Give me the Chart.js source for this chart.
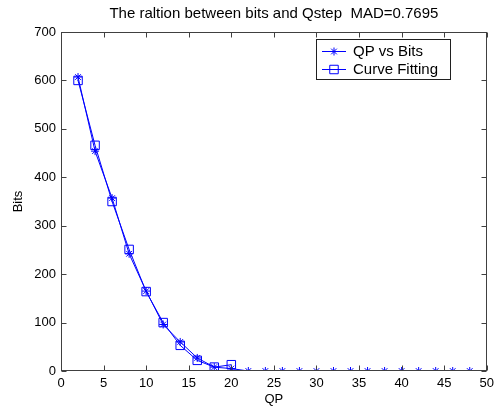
<!DOCTYPE html>
<html>
<head>
<meta charset="utf-8">
<script src="https://cdn.jsdelivr.net/npm/chart.js@4"></script>
<style>
  body { margin: 0; background: #fff; }
  #wrap { width: 499px; height: 410px; }
</style>
</head>
<body>
<div id="wrap"><canvas id="c" width="499" height="410"></canvas></div>
<script>
// data
let qp = [2, 4, 6, 8, 10, 12, 14, 16, 18, 20, 22, 24, 26, 28, 30, 32, 34, 36, 38, 40, 42, 44, 46, 48];
let bits = [607, 454, 357, 242, 165, 96, 60, 27, 8, 5, 0, 0, 0, 0, 0, 0, 0, 0, 0, 0, 0, 0, 0, 0];
let fit_qp = [2, 4, 6, 8, 10, 12, 14, 16, 18, 20];
let fit_bits = [600, 466, 350, 251, 164, 100, 53, 22, 8, 13];
let series_names = ['QP vs Bits', 'Curve Fitting'];
let x_ticks = [0, 5, 10, 15, 20, 25, 30, 35, 40, 45, 50];
let y_ticks = [0, 100, 200, 300, 400, 500, 600, 700];

let font_family = "'Liberation Sans', Arial, sans-serif";
let blue = '#0000ff';
let axis_color = '#404040';

function toPoints(xs, ys) {
    let pts = [];
    for (i = 0; i < xs.length; i++) {
        pts.push({ x: xs[i], y: ys[i] });
    }
    return pts;
}

// box round the axes, ticks pointing inwards, and the legend
let matlabAxes = {
    id: 'matlabAxes',
    afterDraw(chart) {
        let ctx = chart.ctx;
        let a = chart.chartArea;
        let xs = chart.scales.x;
        let ys = chart.scales.y;
        let L = Math.round(a.left) + 0.5, R = Math.round(a.right) - 0.5;
        let T = Math.round(a.top) + 0.5, B = Math.round(a.bottom) - 0.5;
        ctx.save();
        ctx.strokeStyle = axis_color;
        ctx.lineWidth = 1;
        ctx.strokeRect(L, T, R - L, B - T);
        ctx.beginPath();
        x_ticks.forEach(function (v) {
            let px = Math.round(xs.getPixelForValue(v)) + 0.5;
            ctx.moveTo(px, B); ctx.lineTo(px, B - 5);
            ctx.moveTo(px, T); ctx.lineTo(px, T + 5);
        });
        y_ticks.forEach(function (v) {
            let py = Math.round(ys.getPixelForValue(v)) + 0.5;
            ctx.moveTo(L, py); ctx.lineTo(L + 5, py);
            ctx.moveTo(R, py); ctx.lineTo(R - 5, py);
        });
        ctx.stroke();

        // legend
        let lx = 316.5, ly = 39.5, lw = 134, lh = 40;
        ctx.fillStyle = '#fff';
        ctx.fillRect(lx, ly, lw, lh);
        ctx.strokeStyle = '#202020';
        ctx.strokeRect(lx, ly, lw, lh);
        let rows = [ly + 11, ly + 29];
        chart.data.datasets.forEach(function (ds, k) {
            let y = Math.round(rows[k]) + 0.5;
            ctx.strokeStyle = blue;
            ctx.fillStyle = 'rgba(0,0,0,0)';
            ctx.beginPath();
            ctx.moveTo(322, y); ctx.lineTo(346, y);
            ctx.stroke();
            Chart.helpers.drawPoint(ctx, {
                pointStyle: ds.pointStyle,
                radius: ds.pointRadius,
                borderWidth: 1
            }, 334, y);
            ctx.fillStyle = '#000';
            ctx.font = '15px ' + font_family;
            ctx.textBaseline = 'middle';
            ctx.fillText(ds.label, 353, y);
        });
        ctx.restore();
    }
};

let ctx = document.getElementById('c').getContext('2d');
let chart = new Chart(ctx, {
    type: 'scatter',
    data: {
        datasets: [{
            label: series_names[0],
            data: toPoints(qp, bits),
            showLine: true,
            borderColor: blue,
            backgroundColor: 'rgba(0,0,0,0)',
            borderWidth: 1,
            pointStyle: 'star',
            pointRadius: 4,
            pointBorderWidth: 1
        }, {
            label: series_names[1],
            data: toPoints(fit_qp, fit_bits),
            showLine: true,
            borderColor: blue,
            backgroundColor: 'rgba(0,0,0,0)',
            borderWidth: 1,
            pointStyle: 'rect',
            pointRadius: 6,
            pointBorderWidth: 1
        }]
    },
    options: {
        responsive: false,
        animation: false,
        layout: { padding: { left: 0, right: 4, top: 0, bottom: 0 } },
        scales: {
            x: {
                type: 'linear',
                min: 0, max: 50,
                afterBuildTicks: function (s) { s.ticks = x_ticks.map(function (v) { return { value: v }; }); },
                afterFit: function (s) { s.height = 39; },
                grid: { display: false, drawTicks: false },
                border: { display: false },
                ticks: { color: '#000', padding: 5, font: { size: 13, family: font_family }, maxRotation: 0 },
                title: { display: true, text: 'QP', color: '#000', padding: { top: 0, bottom: 3 }, font: { size: 13, family: font_family } }
            },
            y: {
                type: 'linear',
                min: 0, max: 700,
                afterBuildTicks: function (s) { s.ticks = y_ticks.map(function (v) { return { value: v }; }); },
                afterFit: function (s) { s.width = 61; },
                grid: { display: false, drawTicks: false },
                border: { display: false },
                ticks: { color: '#000', padding: 5, font: { size: 13, family: font_family } },
                title: { display: true, text: 'Bits', color: '#000', padding: { top: 11, bottom: 0 }, font: { size: 13, family: font_family } }
            }
        },
        plugins: {
            legend: { display: false },
            tooltip: { enabled: false },
            title: {
                display: true,
                fullSize: false,
                text: 'The raltion between bits and Qstep  MAD=0.7695',
                color: '#000',
                font: { size: 15, weight: 'normal', family: font_family },
                padding: { top: 5, bottom: 9 }
            }
        }
    },
    plugins: [matlabAxes]
});
</script>
</body>
</html>
